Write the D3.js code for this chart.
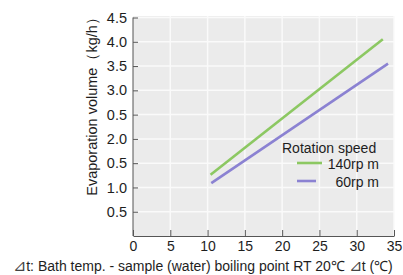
<!DOCTYPE html>
<html>
<head>
<meta charset="utf-8">
<script src="https://cdn.jsdelivr.net/npm/d3@7"></script>
<style>
  html, body { margin: 0; padding: 0; background: #fff; }
  svg { display: block; font-family: "Liberation Sans", Arial, sans-serif; }
</style>
</head>
<body>
<svg id="chart" width="403" height="275"></svg>
<script>
// ---- data ----
const seriesNames = ["140rp m", "60rp m"];
const seriesColors = ["#8cc862", "#8b82d2"];
const xStart = [10.4, 10.5];
const xEnd = [33.5, 34.2];
const yStart = [1.26, 1.09];
const yEnd = [4.05, 3.55];
const xTicks = [0, 5, 10, 15, 20, 25, 30, 35];
const yTicks = [0.5, 1.0, 1.5, 2.0, 2.5, 3.0, 3.5, 4.0, 4.5];
const yTickLabels = ["0.5", "1.0", "0.5", "2.0", "0.5", "3.0", "3.5", "4.0", "4.5"];
const yTitle = "Evaporation volume（kg/h）";
const xTitleParts = ["⊿", "t: Bath temp. - sample (water) boiling point RT 20℃ ", "⊿", "t (℃)"];
const legendTitle = "Rotation speed";

const svg = d3.select("#chart");
const x = d3.scaleLinear().domain([0, 35]).range([133, 394]);
const y = d3.scaleLinear().domain([0, 4.5]).range([236, 17.5]);
const textColor = "#1e1e1e";

// plot background
svg.append("rect")
  .attr("x", x(0)).attr("y", y(4.5) - 1.5)
  .attr("width", x(35) - x(0)).attr("height", y(0) - y(4.5) + 1.5)
  .attr("fill", "#ebebeb");

// grid
svg.append("g").selectAll("line").data(xTicks.slice(1)).join("line")
  .attr("x1", d => x(d)).attr("x2", d => x(d))
  .attr("y1", y(4.5) - 1.5).attr("y2", y(0))
  .attr("stroke", "#fafafa").attr("stroke-width", 1.5);
svg.append("g").selectAll("line").data(yTicks).join("line")
  .attr("x1", x(0)).attr("x2", x(35))
  .attr("y1", d => y(d)).attr("y2", d => y(d))
  .attr("stroke", "#fafafa").attr("stroke-width", 1.5);

// axes
const yAxis = d3.axisLeft(y).tickValues(yTicks)
  .tickFormat((d, i) => yTickLabels[i]).tickSizeInner(-5).tickSizeOuter(0).tickPadding(6);
const gy = svg.append("g").attr("transform", `translate(${x(0)},0)`).call(yAxis);
gy.select(".domain").attr("stroke", "#555").attr("d", `M0,${y(4.5)}V${y(0)}`);
gy.selectAll(".tick line").attr("stroke", "#555");
gy.selectAll("text").attr("font-size", 14.5).attr("fill", textColor)
  .attr("font-family", "'Liberation Sans', Arial, sans-serif");

const xAxis = d3.axisBottom(x).tickValues(xTicks)
  .tickSizeInner(-6).tickSizeOuter(0).tickPadding(5);
const gx = svg.append("g").attr("transform", `translate(0,${y(0)})`).call(xAxis);
gx.select(".domain").attr("stroke", "#555");
gx.selectAll(".tick line").attr("stroke", "#555");
gx.selectAll("text").attr("font-size", 14).attr("fill", textColor)
  .attr("font-family", "'Liberation Sans', Arial, sans-serif");

// series lines
seriesNames.forEach((name, i) => {
  svg.append("line")
    .attr("x1", x(xStart[i])).attr("y1", y(yStart[i]))
    .attr("x2", x(xEnd[i])).attr("y2", y(yEnd[i]))
    .attr("stroke", seriesColors[i]).attr("stroke-width", 2.6);
});

// legend
const lg = svg.append("g");
lg.append("text").attr("x", 282).attr("y", 153)
  .attr("font-size", 14).attr("fill", textColor).text(legendTitle);
const legendRows = [{ y: 169, lx1: 297, lx2: 322 }, { y: 187, lx1: 297, lx2: 316 }];
seriesNames.forEach((name, i) => {
  const r = legendRows[i];
  lg.append("line").attr("x1", r.lx1).attr("x2", r.lx2)
    .attr("y1", r.y - 6).attr("y2", r.y - 6)
    .attr("stroke", seriesColors[i]).attr("stroke-width", 2.6);
  lg.append("text").attr("x", 379).attr("y", r.y).attr("text-anchor", "end")
    .attr("font-size", 14).attr("fill", textColor).text(name);
});

// axis titles
svg.append("text")
  .attr("transform", `translate(97,${(12 + 194) / 2}) rotate(-90)`)
  .attr("text-anchor", "middle").attr("font-size", 14.5).attr("fill", textColor)
  .text(yTitle);

const xt = svg.append("text")
  .attr("x", 203).attr("y", 271).attr("text-anchor", "middle")
  .attr("font-size", 14).attr("fill", textColor);
xTitleParts.forEach(p => {
  const t = xt.append("tspan").text(p);
  if (p === "⊿") t.attr("font-size", 16).attr("fill", "#444");
});
const w = xt.node().getComputedTextLength();
if (w > 396) xt.attr("font-size", 14 * 396 / w);
</script>
</body>
</html>
